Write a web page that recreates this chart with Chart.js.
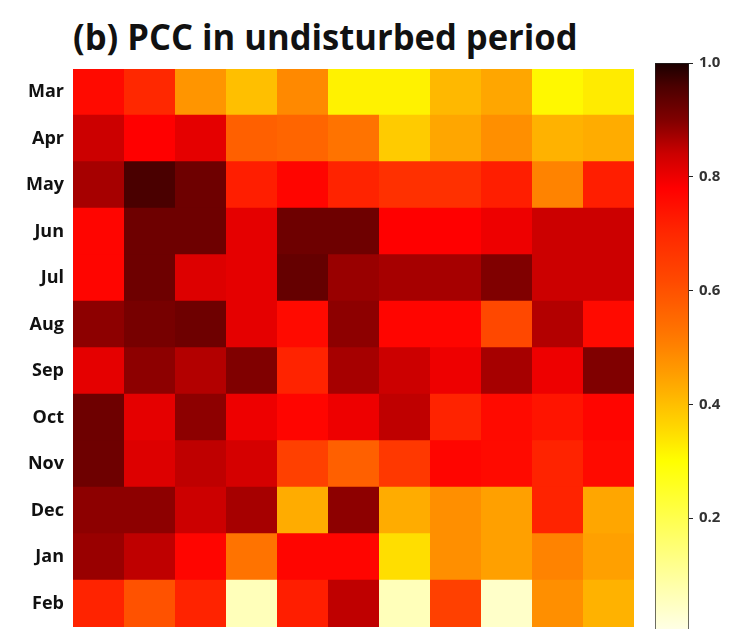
<!DOCTYPE html>
<html>
<head>
<meta charset="utf-8">
<script src="https://cdn.jsdelivr.net/npm/chart.js@4.4.0/dist/chart.umd.min.js"></script>
<style>
  html, body { margin: 0; padding: 0; background: #fff; overflow: hidden; width: 740px; height: 629px; }
  #title { position: absolute; left: 73px; top: 12px; font: bold 36px "Open Sans", sans-serif; color: #111;
           white-space: nowrap; transform: scaleX(0.96); transform-origin: left top; }
  #heat { position: absolute; left: 0; top: 0; width: 640px; height: 629px; }
  #bar { position: absolute; left: 640px; top: 0; width: 100px; height: 640px; }
</style>
</head>
<body>
<div id="title">(b) PCC in undisturbed period</div>
<canvas id="heat" width="640" height="629"></canvas>
<canvas id="bar" width="100" height="640"></canvas>
<script>
// months on the rows, 11 columns per row
const months = ['Mar', 'Apr', 'May', 'Jun', 'Jul', 'Aug', 'Sep', 'Oct', 'Nov', 'Dec', 'Jan', 'Feb'];
const columns = ['1', '2', '3', '4', '5', '6', '7', '8', '9', '10', '11'];

const pccMar = [0.76, 0.70, 0.47, 0.40, 0.49, 0.32, 0.32, 0.41, 0.44, 0.31, 0.33];
const pccApr = [0.84, 0.78, 0.81, 0.57, 0.56, 0.53, 0.38, 0.44, 0.48, 0.42, 0.43];
const pccMay = [0.87, 0.96, 0.92, 0.72, 0.77, 0.71, 0.68, 0.68, 0.72, 0.50, 0.72];
const pccJun = [0.77, 0.92, 0.92, 0.81, 0.92, 0.92, 0.78, 0.78, 0.80, 0.84, 0.84];
const pccJul = [0.77, 0.92, 0.82, 0.81, 0.93, 0.88, 0.87, 0.87, 0.90, 0.84, 0.84];
const pccAug = [0.89, 0.91, 0.92, 0.81, 0.76, 0.89, 0.77, 0.77, 0.62, 0.86, 0.76];
const pccSep = [0.81, 0.89, 0.86, 0.90, 0.71, 0.87, 0.84, 0.80, 0.87, 0.80, 0.90];
const pccOct = [0.92, 0.81, 0.89, 0.80, 0.77, 0.80, 0.85, 0.71, 0.76, 0.74, 0.77];
const pccNov = [0.92, 0.82, 0.85, 0.83, 0.64, 0.57, 0.66, 0.77, 0.76, 0.71, 0.76];
const pccDec = [0.89, 0.89, 0.84, 0.87, 0.43, 0.89, 0.43, 0.48, 0.45, 0.71, 0.44];
const pccJan = [0.88, 0.85, 0.77, 0.53, 0.77, 0.77, 0.35, 0.48, 0.45, 0.50, 0.45];
const pccFeb = [0.71, 0.60, 0.71, 0.06, 0.72, 0.85, 0.06, 0.64, 0.04, 0.48, 0.42];

const pcc = [pccMar, pccApr, pccMay, pccJun, pccJul, pccAug, pccSep, pccOct, pccNov, pccDec, pccJan, pccFeb];

const barTicks = [0.2, 0.4, 0.6, 0.8, 1.0];

// reversed "hot" style map: pale yellow -> yellow -> orange -> red -> black
const cmap = [
  [0.00, [255, 255, 232]],
  [0.12, [255, 255, 140]],
  [0.30, [255, 255, 0]],
  [0.36, [255, 215, 0]],
  [0.45, [255, 160, 0]],
  [0.52, [255, 120, 0]],
  [0.62, [255, 72, 0]],
  [0.70, [255, 40, 0]],
  [0.78, [255, 0, 0]],
  [0.84, [204, 0, 0]],
  [0.90, [128, 0, 0]],
  [0.96, [74, 0, 0]],
  [1.00, [26, 0, 0]]
];

function colorOf(v) {
  v = Math.max(0, Math.min(1, v));
  for (let i = 1; i < cmap.length; i++) {
    if (v <= cmap[i][0]) {
      const a = cmap[i - 1], b = cmap[i];
      const t = (v - a[0]) / (b[0] - a[0]);
      const c = a[1].map((x, k) => Math.round(x + (b[1][k] - x) * t));
      return 'rgb(' + c.join(',') + ')';
    }
  }
  return 'rgb(26,0,0)';
}

// keep the end labels from eating into the plot height
function noEndPadding(s) {
  s.paddingTop = 0;
  s.paddingBottom = 0;
}

const labelFont = { family: '"Open Sans", sans-serif', size: 18, weight: 'bold' };

// one floating-bar dataset per column, spanning [c, c+1] on every month row
// (bars a hair taller than the row so no white seams show between rows)
const heatSets = columns.map((col, c) => ({
  label: col,
  data: months.map(() => [c, c + 1]),
  backgroundColor: months.map((m, r) => colorOf(pcc[r][c])),
  borderWidth: 0,
  grouped: false,
  barPercentage: 1.03,
  categoryPercentage: 1
}));

new Chart(document.getElementById('heat'), {
  type: 'bar',
  data: { labels: months, datasets: heatSets },
  options: {
    indexAxis: 'y',
    responsive: false,
    maintainAspectRatio: false,
    animation: false,
    layout: { padding: { top: 69, bottom: 2, left: 0, right: 6 } },
    plugins: { legend: { display: false }, tooltip: { enabled: false } },
    scales: {
      x: { type: 'linear', min: 0, max: columns.length, display: false },
      y: {
        grid: { display: false, drawTicks: false },
        border: { display: false },
        ticks: { color: '#111', font: labelFont, padding: 9 },
        afterFit: (s) => { s.width = 73; noEndPadding(s); }
      }
    }
  }
});

// colour bar: a single bar from 0 to 1 filled with the same map
new Chart(document.getElementById('bar'), {
  type: 'bar',
  data: {
    labels: ['PCC'],
    datasets: [{
      data: [[0, 1]],
      backgroundColor: (ctx) => {
        const area = ctx.chart.chartArea;
        if (!area) return '#fff';
        const y = ctx.chart.scales.y;
        const g = ctx.chart.ctx.createLinearGradient(0, y.getPixelForValue(0), 0, y.getPixelForValue(1));
        for (let i = 0; i <= 50; i++) g.addColorStop(i / 50, colorOf(i / 50));
        return g;
      },
      borderColor: '#222',
      borderWidth: 1,
      borderSkipped: false,
      barPercentage: 1,
      categoryPercentage: 1
    }]
  },
  options: {
    responsive: false,
    maintainAspectRatio: false,
    animation: false,
    layout: { padding: { top: 63, bottom: 8, left: 15, right: 0 } },
    plugins: { legend: { display: false }, tooltip: { enabled: false } },
    scales: {
      x: { display: false },
      y: {
        position: 'right',
        min: 0,
        max: 1,
        afterBuildTicks: (s) => { s.ticks = barTicks.map(v => ({ value: v })); },
        grid: { drawOnChartArea: false, tickLength: 4, color: '#222' },
        border: { display: false },
        ticks: {
          color: '#333',
          font: { family: '"Open Sans", sans-serif', size: 15, weight: 'bold' },
          padding: 6,
          callback: (v) => v.toFixed(1)
        },
        afterFit: (s) => { s.width = 51; noEndPadding(s); }
      }
    }
  }
});
</script>
</body>
</html>
